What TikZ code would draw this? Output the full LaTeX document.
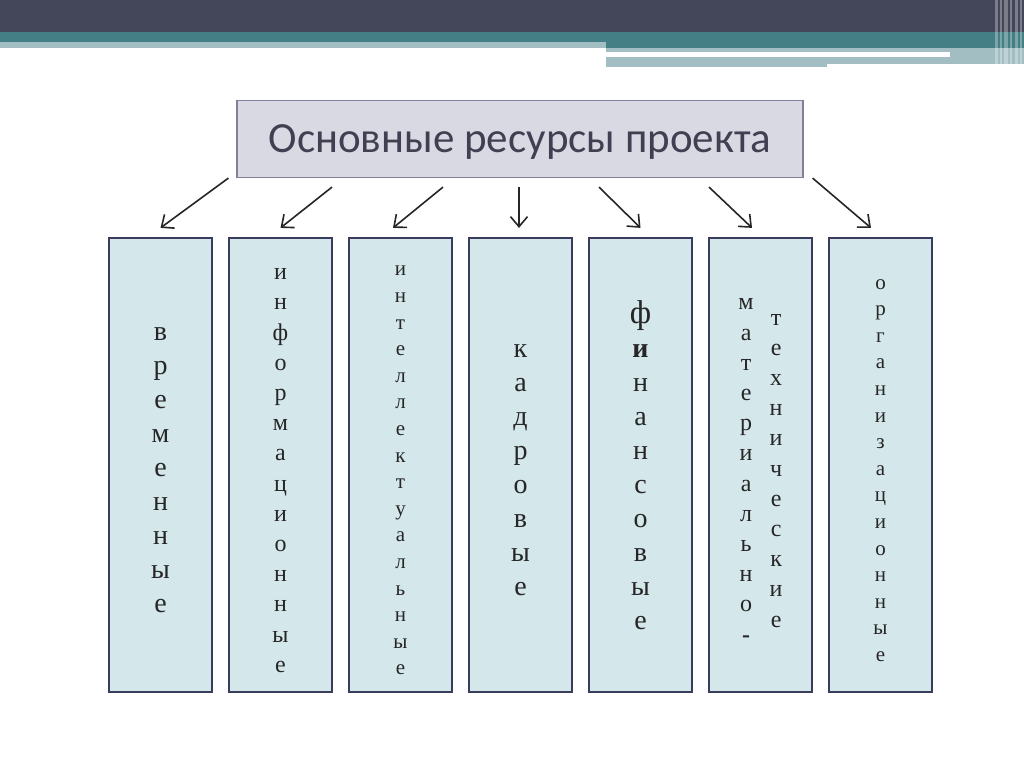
\documentclass[tikz,border=0pt]{standalone}
\usepackage{fontspec}
\setmainfont{Liberation Serif}
\newfontfamily\titlefont{Carlito}
\usepackage{tikz}
\usetikzlibrary{arrows.meta, calc, positioning}
\definecolor{hdrdark}{HTML}{444659}
\definecolor{hdrteal}{HTML}{447F86}
\definecolor{hdrlight}{HTML}{A2BEC2}
\definecolor{titlefill}{HTML}{D9D9E3}
\definecolor{titleline}{HTML}{80809A}
\definecolor{titletext}{HTML}{404052}
\definecolor{boxfill}{HTML}{D4E7EB}
\definecolor{boxline}{HTML}{3B3B5C}
% one letter per row, set a little below the middle of the box
\newcommand{\lettercol}[1]{\begin{tabular}[c]{@{}c@{}}#1\end{tabular}}
\newcommand{\lowered}[1]{\raisebox{-5pt}[\height][\depth]{#1}}

\begin{document}
\begin{tikzpicture}[x=1pt, y=-1pt, >={Straight Barb[length=10pt,width=17pt]}, node distance=14.8pt,
    titlebox/.style={draw=titleline, line width=1.2pt, fill=titlefill, minimum width=566pt, minimum height=77pt, text depth=0pt, text=titletext, font=\titlefont\fontsize{43}{50}\selectfont},
    resbox/.style={draw=boxline, line width=2.2pt, fill=boxfill, minimum width=103pt, minimum height=454pt, inner sep=0pt, text=black!85},
    bigletters/.style={font=\fontsize{28}{34}\selectfont},
    midletters/.style={font=\fontsize{24}{30.2}\selectfont},
    smallletters/.style={font=\fontsize{21}{26.6}\selectfont},
    link/.style={->, line width=1.6pt, black!85}]
    \useasboundingbox (0,0) rectangle (1024,767);
    \fill[white] (0,0) rectangle (1024,767);

    % Slide header
    \fill[hdrdark] (0,0) rectangle (1024,32);
    \fill[hdrteal] (0,32) rectangle (1024,42);
    \fill[hdrlight] (0,42) rectangle (606,48);
    \fill[hdrteal] (606,42) rectangle (1024,48);
    \fill[hdrlight] (606,48) rectangle (1024,64);
    \fill[hdrlight] (606,64) rectangle (827,67.5);
    \fill[white] (606,52.3) rectangle (950,56.7);
    \foreach \vx/\vw in {995/3, 1000/2, 1004/4, 1010/2, 1015/3, 1020/2}
        \fill[white, opacity=0.3] (\vx,0) rectangle ++(\vw,67);

    % Title node
    \node[titlebox] (title) at (520,139) {Основные ресурсы проекта};

    % Resource columns
    \node[resbox, bigletters] (vrem) at (160.5,465) {\lowered{\lettercol{в\\р\\е\\м\\е\\н\\н\\ы\\е}}};
    \node[resbox, midletters, right=of vrem] (inform) {\lowered{\lettercol{и\\н\\ф\\о\\р\\м\\а\\ц\\и\\о\\н\\н\\ы\\е}}};
    \node[resbox, smallletters, right=of inform] (intel) {\lowered{\lettercol{и\\н\\т\\е\\л\\л\\е\\к\\т\\у\\а\\л\\ь\\н\\ы\\е}}};
    \node[resbox, bigletters, right=of intel] (kadr) {\lowered{\lettercol{к\\а\\д\\р\\о\\в\\ы\\е}}};
    \node[resbox, bigletters, right=of kadr] (fin) {\lowered{\lettercol{{\fontsize{33}{34}\selectfont ф}\\\textbf{и}\\н\\а\\н\\с\\о\\в\\ы\\е}}};
    \node[resbox, midletters, right=of fin] (mattech) {\lowered{%
        \lettercol{м\\а\\т\\е\\р\\и\\а\\л\\ь\\н\\о\\\textbf{-}}\hspace{16pt}%
        \lettercol{т\\е\\х\\н\\и\\ч\\е\\с\\к\\и\\е}}};
    \node[resbox, smallletters, right=of mattech] (org) {\lowered{\lettercol{о\\р\\г\\а\\н\\и\\з\\а\\ц\\и\\о\\н\\н\\ы\\е}}};

    % Arrows
    \draw[link] ($(title.south west)+(-8,0)$) -- ([yshift=9pt]vrem.north);
    \draw[link] ($(title.south)+(-188,9)$) -- ([yshift=9pt]inform.north);
    \draw[link] ($(title.south)+(-77,9)$) -- ([xshift=-7.5pt,yshift=9pt]intel.north);
    \draw[link] ($(title.south)+(-1,9)$) -- ([xshift=-1.5pt,yshift=9pt]kadr.north);
    \draw[link] ($(title.south)+(79,9)$) -- ([yshift=9pt]fin.north);
    \draw[link] ($(title.south)+(189,9)$) -- ([xshift=-8.5pt,yshift=9pt]mattech.north);
    \draw[link] ($(title.south east)+(9,0)$) -- ([xshift=-9.5pt,yshift=9pt]org.north);
\end{tikzpicture}
\end{document}
